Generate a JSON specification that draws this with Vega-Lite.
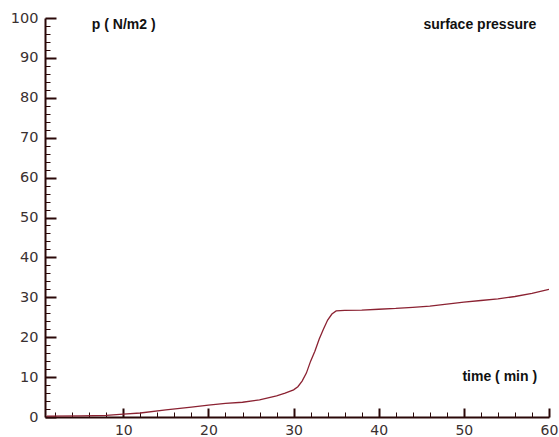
{
  "$schema": "https://vega.github.io/schema/vega-lite/v6.json",
  "autosize": "none",
  "width": 504,
  "height": 399,
  "padding": {"left": 45, "top": 18, "right": 10, "bottom": 20},
  "background": "white",
  "config": {"view": {"stroke": null}},
  "datasets": {
    "curve": [
      {"time": 1, "p": 0.2}, {"time": 5, "p": 0.3}, {"time": 8, "p": 0.4},
      {"time": 10, "p": 0.7}, {"time": 12, "p": 1.0}, {"time": 15, "p": 1.8},
      {"time": 18, "p": 2.5}, {"time": 20, "p": 3.0}, {"time": 22, "p": 3.4},
      {"time": 24, "p": 3.7}, {"time": 26, "p": 4.3}, {"time": 28, "p": 5.3},
      {"time": 29, "p": 6.0}, {"time": 30, "p": 6.8}, {"time": 30.5, "p": 7.6},
      {"time": 31, "p": 9.0}, {"time": 31.5, "p": 11.0}, {"time": 32, "p": 14.0},
      {"time": 32.5, "p": 16.5}, {"time": 33, "p": 19.5}, {"time": 33.5, "p": 22.0},
      {"time": 34, "p": 24.3}, {"time": 34.5, "p": 25.8}, {"time": 35, "p": 26.6},
      {"time": 36, "p": 26.7}, {"time": 38, "p": 26.8}, {"time": 40, "p": 27.0},
      {"time": 42, "p": 27.2}, {"time": 44, "p": 27.5}, {"time": 46, "p": 27.8},
      {"time": 48, "p": 28.3}, {"time": 50, "p": 28.8}, {"time": 52, "p": 29.2},
      {"time": 54, "p": 29.6}, {"time": 56, "p": 30.2}, {"time": 58, "p": 31.0},
      {"time": 60, "p": 32.0}
    ],
    "leftLabels": [
      {"time": 6.3, "p": 98.2, "text": "p ( N/m2 )"}
    ],
    "rightLabels": [
      {"time": 58.5, "p": 98.2, "text": "surface pressure"},
      {"time": 58.6, "p": 10.0, "text": "time ( min )"}
    ]
  },
  "layer": [
    {
      "data": {"name": "curve"},
      "mark": {"type": "line", "color": "#8b2232", "strokeWidth": 1.3, "clip": true},
      "encoding": {
        "x": {
          "field": "time", "type": "quantitative",
          "scale": {"domain": [0.8, 60], "nice": false, "zero": false},
          "axis": {
            "title": null,
            "values": [2,4,6,8,10,12,14,16,18,20,22,24,26,28,30,32,34,36,38,40,42,44,46,48,50,52,54,56,58,60],
            "tickCount": 200,
            "format": "d",
            "labelExpr": "datum.value % 10 === 0 ? datum.label : ''",
            "grid": false,
            "domainColor": "#2a0808",
            "domainWidth": 2,
            "tickColor": "#2a0808",
            "tickWidth": {"condition": {"test": "datum.value % 10 === 0", "value": 2}, "value": 1},
            "tickSize": {"condition": {"test": "datum.value % 10 === 0", "value": -9}, "value": -5},
            "labelPadding": 15,
            "labelFont": "DejaVu Sans",
            "labelFontSize": 14,
            "labelColor": "#3a3030",
            "labelFlush": false,
            "labelOverlap": false
          }
        },
        "y": {
          "field": "p", "type": "quantitative",
          "scale": {"domain": [0, 100], "nice": false},
          "axis": {
            "title": null,
            "values": [0,2,4,6,8,10,12,14,16,18,20,22,24,26,28,30,32,34,36,38,40,42,44,46,48,50,52,54,56,58,60,62,64,66,68,70,72,74,76,78,80,82,84,86,88,90,92,94,96,98,100],
            "tickCount": 200,
            "format": "d",
            "labelExpr": "datum.value % 10 === 0 ? datum.label : ''",
            "grid": false,
            "domainColor": "#2a0808",
            "domainWidth": 2,
            "tickColor": "#2a0808",
            "tickWidth": {"condition": {"test": "datum.value % 10 === 0", "value": 2}, "value": 1},
            "tickSize": {"condition": {"test": "datum.value % 10 === 0", "value": -11}, "value": -5},
            "labelPadding": 18,
            "labelFont": "DejaVu Sans",
            "labelFontSize": 14.5,
            "labelColor": "#3a3030",
            "labelFlush": false,
            "labelOverlap": false
          }
        }
      }
    },
    {
      "data": {"name": "leftLabels"},
      "mark": {"type": "text", "font": "Liberation Sans", "fontWeight": "bold", "fontSize": 14, "color": "#111111", "baseline": "middle", "align": "left"},
      "encoding": {
        "x": {"field": "time", "type": "quantitative"},
        "y": {"field": "p", "type": "quantitative"},
        "text": {"field": "text"}
      }
    },
    {
      "data": {"name": "rightLabels"},
      "mark": {"type": "text", "font": "Liberation Sans", "fontWeight": "bold", "fontSize": 14, "color": "#111111", "baseline": "middle", "align": "right"},
      "encoding": {
        "x": {"field": "time", "type": "quantitative"},
        "y": {"field": "p", "type": "quantitative"},
        "text": {"field": "text"}
      }
    }
  ]
}
